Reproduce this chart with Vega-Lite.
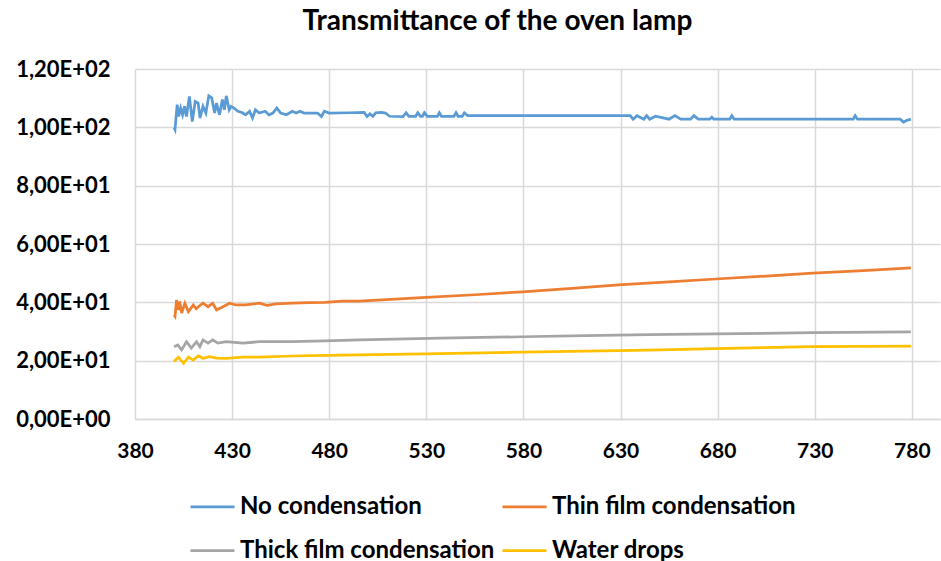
{
  "$schema": "https://vega.github.io/schema/vega-lite/v6.json",
  "autosize": "none",
  "width": 805,
  "height": 350,
  "padding": {"left": 135, "top": 69, "right": 1, "bottom": 142},
  "background": "white",
  "title": {"text": "Transmittance of the oven lamp", "font": "Lato", "fontSize": 28, "fontWeight": "bold", "color": "#000000", "anchor": "middle", "dx": -40, "offset": 22},
  "config": {
    "view": {"stroke": null},
    "axis": {"labelFont": "Lato", "labelFontWeight": "bold", "labelColor": "#000000", "gridColor": "#d9d9d9", "gridWidth": 1.5, "ticks": false, "title": null}
  },
  "data": {"values": [
    {"w": 400.1, "s": "No condensation", "v": 99.9},
    {"w": 400.6, "s": "No condensation", "v": 99.2},
    {"w": 401.7, "s": "No condensation", "v": 107.8},
    {"w": 402.5, "s": "No condensation", "v": 103.7},
    {"w": 403.5, "s": "No condensation", "v": 106.6},
    {"w": 404.5, "s": "No condensation", "v": 104.3},
    {"w": 405.5, "s": "No condensation", "v": 107.2},
    {"w": 406.5, "s": "No condensation", "v": 103.7},
    {"w": 408, "s": "No condensation", "v": 110.6},
    {"w": 409.5, "s": "No condensation", "v": 102.0},
    {"w": 411, "s": "No condensation", "v": 108.9},
    {"w": 412.5, "s": "No condensation", "v": 108.3},
    {"w": 413.5, "s": "No condensation", "v": 103.2},
    {"w": 415, "s": "No condensation", "v": 107.2},
    {"w": 416.5, "s": "No condensation", "v": 104.9},
    {"w": 418, "s": "No condensation", "v": 110.8},
    {"w": 419.5, "s": "No condensation", "v": 110.1},
    {"w": 421, "s": "No condensation", "v": 104.9},
    {"w": 422, "s": "No condensation", "v": 108.3},
    {"w": 423.5, "s": "No condensation", "v": 104.3},
    {"w": 425, "s": "No condensation", "v": 109.5},
    {"w": 426, "s": "No condensation", "v": 106.0},
    {"w": 427, "s": "No condensation", "v": 110.8},
    {"w": 428.5, "s": "No condensation", "v": 106.0},
    {"w": 429.5, "s": "No condensation", "v": 107.2},
    {"w": 431, "s": "No condensation", "v": 106.6},
    {"w": 433, "s": "No condensation", "v": 105.5},
    {"w": 435, "s": "No condensation", "v": 105.1},
    {"w": 437, "s": "No condensation", "v": 104.3},
    {"w": 439, "s": "No condensation", "v": 105.5},
    {"w": 440.5, "s": "No condensation", "v": 103.2},
    {"w": 442, "s": "No condensation", "v": 106.0},
    {"w": 444, "s": "No condensation", "v": 104.9},
    {"w": 447, "s": "No condensation", "v": 105.5},
    {"w": 449, "s": "No condensation", "v": 104.3},
    {"w": 451, "s": "No condensation", "v": 104.9},
    {"w": 453, "s": "No condensation", "v": 106.6},
    {"w": 455, "s": "No condensation", "v": 104.9},
    {"w": 458, "s": "No condensation", "v": 104.3},
    {"w": 461, "s": "No condensation", "v": 105.5},
    {"w": 463, "s": "No condensation", "v": 104.9},
    {"w": 465, "s": "No condensation", "v": 105.5},
    {"w": 467, "s": "No condensation", "v": 104.9},
    {"w": 474, "s": "No condensation", "v": 104.9},
    {"w": 476, "s": "No condensation", "v": 103.7},
    {"w": 477.5, "s": "No condensation", "v": 105.5},
    {"w": 480, "s": "No condensation", "v": 104.9},
    {"w": 490, "s": "No condensation", "v": 105.0},
    {"w": 498, "s": "No condensation", "v": 105.1},
    {"w": 499.5, "s": "No condensation", "v": 103.7},
    {"w": 501, "s": "No condensation", "v": 104.6},
    {"w": 502.5, "s": "No condensation", "v": 103.8},
    {"w": 504, "s": "No condensation", "v": 105.0},
    {"w": 507, "s": "No condensation", "v": 105.1},
    {"w": 509, "s": "No condensation", "v": 104.9},
    {"w": 511, "s": "No condensation", "v": 103.8},
    {"w": 518, "s": "No condensation", "v": 103.7},
    {"w": 519.6, "s": "No condensation", "v": 105.0},
    {"w": 521, "s": "No condensation", "v": 103.8},
    {"w": 524.5, "s": "No condensation", "v": 103.8},
    {"w": 525.6, "s": "No condensation", "v": 105.0},
    {"w": 527, "s": "No condensation", "v": 103.8},
    {"w": 528, "s": "No condensation", "v": 103.8},
    {"w": 529, "s": "No condensation", "v": 105.0},
    {"w": 530.5, "s": "No condensation", "v": 103.8},
    {"w": 535.7, "s": "No condensation", "v": 103.8},
    {"w": 536.7, "s": "No condensation", "v": 105.0},
    {"w": 537.8, "s": "No condensation", "v": 103.8},
    {"w": 544.2, "s": "No condensation", "v": 103.8},
    {"w": 545.3, "s": "No condensation", "v": 105.0},
    {"w": 546.4, "s": "No condensation", "v": 103.8},
    {"w": 548.5, "s": "No condensation", "v": 103.8},
    {"w": 549.6, "s": "No condensation", "v": 105.0},
    {"w": 551.3, "s": "No condensation", "v": 104.0},
    {"w": 600, "s": "No condensation", "v": 104.0},
    {"w": 635, "s": "No condensation", "v": 104.0},
    {"w": 636.5, "s": "No condensation", "v": 102.8},
    {"w": 638.5, "s": "No condensation", "v": 104.0},
    {"w": 642, "s": "No condensation", "v": 102.8},
    {"w": 643.5, "s": "No condensation", "v": 104.0},
    {"w": 645, "s": "No condensation", "v": 102.8},
    {"w": 648, "s": "No condensation", "v": 103.8},
    {"w": 655, "s": "No condensation", "v": 102.8},
    {"w": 658, "s": "No condensation", "v": 104.0},
    {"w": 661, "s": "No condensation", "v": 102.8},
    {"w": 666, "s": "No condensation", "v": 102.8},
    {"w": 667.8, "s": "No condensation", "v": 104.0},
    {"w": 670, "s": "No condensation", "v": 102.8},
    {"w": 676, "s": "No condensation", "v": 102.8},
    {"w": 677, "s": "No condensation", "v": 103.5},
    {"w": 678, "s": "No condensation", "v": 102.8},
    {"w": 686.3, "s": "No condensation", "v": 102.8},
    {"w": 687.3, "s": "No condensation", "v": 104.0},
    {"w": 688.5, "s": "No condensation", "v": 102.8},
    {"w": 749.8, "s": "No condensation", "v": 102.8},
    {"w": 750.8, "s": "No condensation", "v": 104.0},
    {"w": 752, "s": "No condensation", "v": 102.8},
    {"w": 774, "s": "No condensation", "v": 102.8},
    {"w": 775.7, "s": "No condensation", "v": 101.8},
    {"w": 777.5, "s": "No condensation", "v": 102.4},
    {"w": 779.5, "s": "No condensation", "v": 102.8},

    {"w": 400.1, "s": "Thin film condensation", "v": 35.7},
    {"w": 400.6, "s": "Thin film condensation", "v": 35.2},
    {"w": 401.4, "s": "Thin film condensation", "v": 40.8},
    {"w": 402.3, "s": "Thin film condensation", "v": 37.4},
    {"w": 403, "s": "Thin film condensation", "v": 40.3},
    {"w": 404, "s": "Thin film condensation", "v": 36.3},
    {"w": 405.7, "s": "Thin film condensation", "v": 39.7},
    {"w": 407.5, "s": "Thin film condensation", "v": 36.8},
    {"w": 410, "s": "Thin film condensation", "v": 39.1},
    {"w": 411.5, "s": "Thin film condensation", "v": 37.8},
    {"w": 412.6, "s": "Thin film condensation", "v": 38.5},
    {"w": 415, "s": "Thin film condensation", "v": 39.7},
    {"w": 417.6, "s": "Thin film condensation", "v": 38.5},
    {"w": 420, "s": "Thin film condensation", "v": 39.7},
    {"w": 422, "s": "Thin film condensation", "v": 37.4},
    {"w": 425.3, "s": "Thin film condensation", "v": 38.5},
    {"w": 428.7, "s": "Thin film condensation", "v": 39.7},
    {"w": 432, "s": "Thin film condensation", "v": 39.1},
    {"w": 437, "s": "Thin film condensation", "v": 39.1},
    {"w": 444, "s": "Thin film condensation", "v": 39.7},
    {"w": 448, "s": "Thin film condensation", "v": 39.0},
    {"w": 452.6, "s": "Thin film condensation", "v": 39.5},
    {"w": 461, "s": "Thin film condensation", "v": 39.7},
    {"w": 469.6, "s": "Thin film condensation", "v": 39.9},
    {"w": 478, "s": "Thin film condensation", "v": 40.0},
    {"w": 486.7, "s": "Thin film condensation", "v": 40.4},
    {"w": 495.6, "s": "Thin film condensation", "v": 40.4},
    {"w": 530, "s": "Thin film condensation", "v": 41.7},
    {"w": 555, "s": "Thin film condensation", "v": 42.6},
    {"w": 579.5, "s": "Thin film condensation", "v": 43.6},
    {"w": 605, "s": "Thin film condensation", "v": 44.8},
    {"w": 629, "s": "Thin film condensation", "v": 46.0},
    {"w": 655, "s": "Thin film condensation", "v": 47.0},
    {"w": 679, "s": "Thin film condensation", "v": 48.0},
    {"w": 705, "s": "Thin film condensation", "v": 49.0},
    {"w": 729, "s": "Thin film condensation", "v": 50.0},
    {"w": 755, "s": "Thin film condensation", "v": 50.9},
    {"w": 779.5, "s": "Thin film condensation", "v": 51.8},

    {"w": 400.1, "s": "Thick film condensation", "v": 24.8},
    {"w": 402, "s": "Thick film condensation", "v": 25.4},
    {"w": 404, "s": "Thick film condensation", "v": 23.7},
    {"w": 406.5, "s": "Thick film condensation", "v": 26.5},
    {"w": 409, "s": "Thick film condensation", "v": 24.3},
    {"w": 411.7, "s": "Thick film condensation", "v": 26.5},
    {"w": 413.4, "s": "Thick film condensation", "v": 24.8},
    {"w": 415, "s": "Thick film condensation", "v": 27.1},
    {"w": 417.6, "s": "Thick film condensation", "v": 26.0},
    {"w": 420, "s": "Thick film condensation", "v": 27.1},
    {"w": 422.7, "s": "Thick film condensation", "v": 26.0},
    {"w": 427, "s": "Thick film condensation", "v": 26.5},
    {"w": 435.5, "s": "Thick film condensation", "v": 26.0},
    {"w": 444, "s": "Thick film condensation", "v": 26.5},
    {"w": 461, "s": "Thick film condensation", "v": 26.5},
    {"w": 478, "s": "Thick film condensation", "v": 26.8},
    {"w": 495.6, "s": "Thick film condensation", "v": 27.1},
    {"w": 537, "s": "Thick film condensation", "v": 27.7},
    {"w": 579.5, "s": "Thick film condensation", "v": 28.2},
    {"w": 612, "s": "Thick film condensation", "v": 28.6},
    {"w": 644.6, "s": "Thick film condensation", "v": 28.9},
    {"w": 679.2, "s": "Thick film condensation", "v": 29.2},
    {"w": 729, "s": "Thick film condensation", "v": 29.6},
    {"w": 779.5, "s": "Thick film condensation", "v": 29.9},

    {"w": 400.1, "s": "Water drops", "v": 19.7},
    {"w": 402.3, "s": "Water drops", "v": 21.2},
    {"w": 405, "s": "Water drops", "v": 19.1},
    {"w": 407.5, "s": "Water drops", "v": 21.2},
    {"w": 410, "s": "Water drops", "v": 20.2},
    {"w": 412.6, "s": "Water drops", "v": 21.6},
    {"w": 415, "s": "Water drops", "v": 20.8},
    {"w": 418.5, "s": "Water drops", "v": 21.4},
    {"w": 422, "s": "Water drops", "v": 20.9},
    {"w": 427, "s": "Water drops", "v": 20.8},
    {"w": 435.5, "s": "Water drops", "v": 21.2},
    {"w": 444, "s": "Water drops", "v": 21.2},
    {"w": 461, "s": "Water drops", "v": 21.6},
    {"w": 478, "s": "Water drops", "v": 21.8},
    {"w": 495.6, "s": "Water drops", "v": 22.0},
    {"w": 537, "s": "Water drops", "v": 22.4},
    {"w": 579.5, "s": "Water drops", "v": 22.9},
    {"w": 612, "s": "Water drops", "v": 23.3},
    {"w": 644.6, "s": "Water drops", "v": 23.6},
    {"w": 679.2, "s": "Water drops", "v": 24.1},
    {"w": 729, "s": "Water drops", "v": 24.8},
    {"w": 779.5, "s": "Water drops", "v": 25.0}
  ]},
  "mark": {"type": "line", "strokeWidth": 2.75, "interpolate": "linear"},
  "encoding": {
    "x": {"field": "w", "type": "quantitative", "scale": {"domain": [380, 794.5], "nice": false, "zero": false},
      "axis": {"values": [380, 430, 480, 530, 580, 630, 680, 730, 780], "domainColor": "#d9d9d9", "domainWidth": 1.5, "labelPadding": 21, "labelFontSize": 21, "labelFlush": false}},
    "y": {"field": "v", "type": "quantitative", "scale": {"domain": [0, 120], "nice": false},
      "axis": {"values": [0, 20, 40, 60, 80, 100, 120], "domain": false, "labelPadding": 25, "labelFontSize": 22,
        "labelExpr": "datum.value == 0 ? '0,00E+00' : replace(format(datum.value / pow(10, floor(log(datum.value) / LN10 + 1e-9)), '.2f'), '.', ',') + 'E+' + (floor(log(datum.value) / LN10 + 1e-9) < 10 ? '0' : '') + floor(log(datum.value) / LN10 + 1e-9)"}},
    "color": {"field": "s", "type": "nominal",
      "scale": {"domain": ["No condensation", "Thin film condensation", "Thick film condensation", "Water drops"], "range": ["#5b9bd5", "#ed7d31", "#a5a5a5", "#ffc000"]},
      "legend": {"title": null, "orient": "none", "legendX": 54, "legendY": 414, "direction": "horizontal", "columns": 2, "columnPadding": 2, "rowPadding": 8,
        "symbolType": "stroke", "symbolSize": 1936, "symbolStrokeWidth": 2.75, "labelOffset": 4,
        "labelFont": "Lato", "labelFontWeight": "bold", "labelFontSize": 24, "labelColor": "#000000", "labelLimit": 400}}
  }
}
